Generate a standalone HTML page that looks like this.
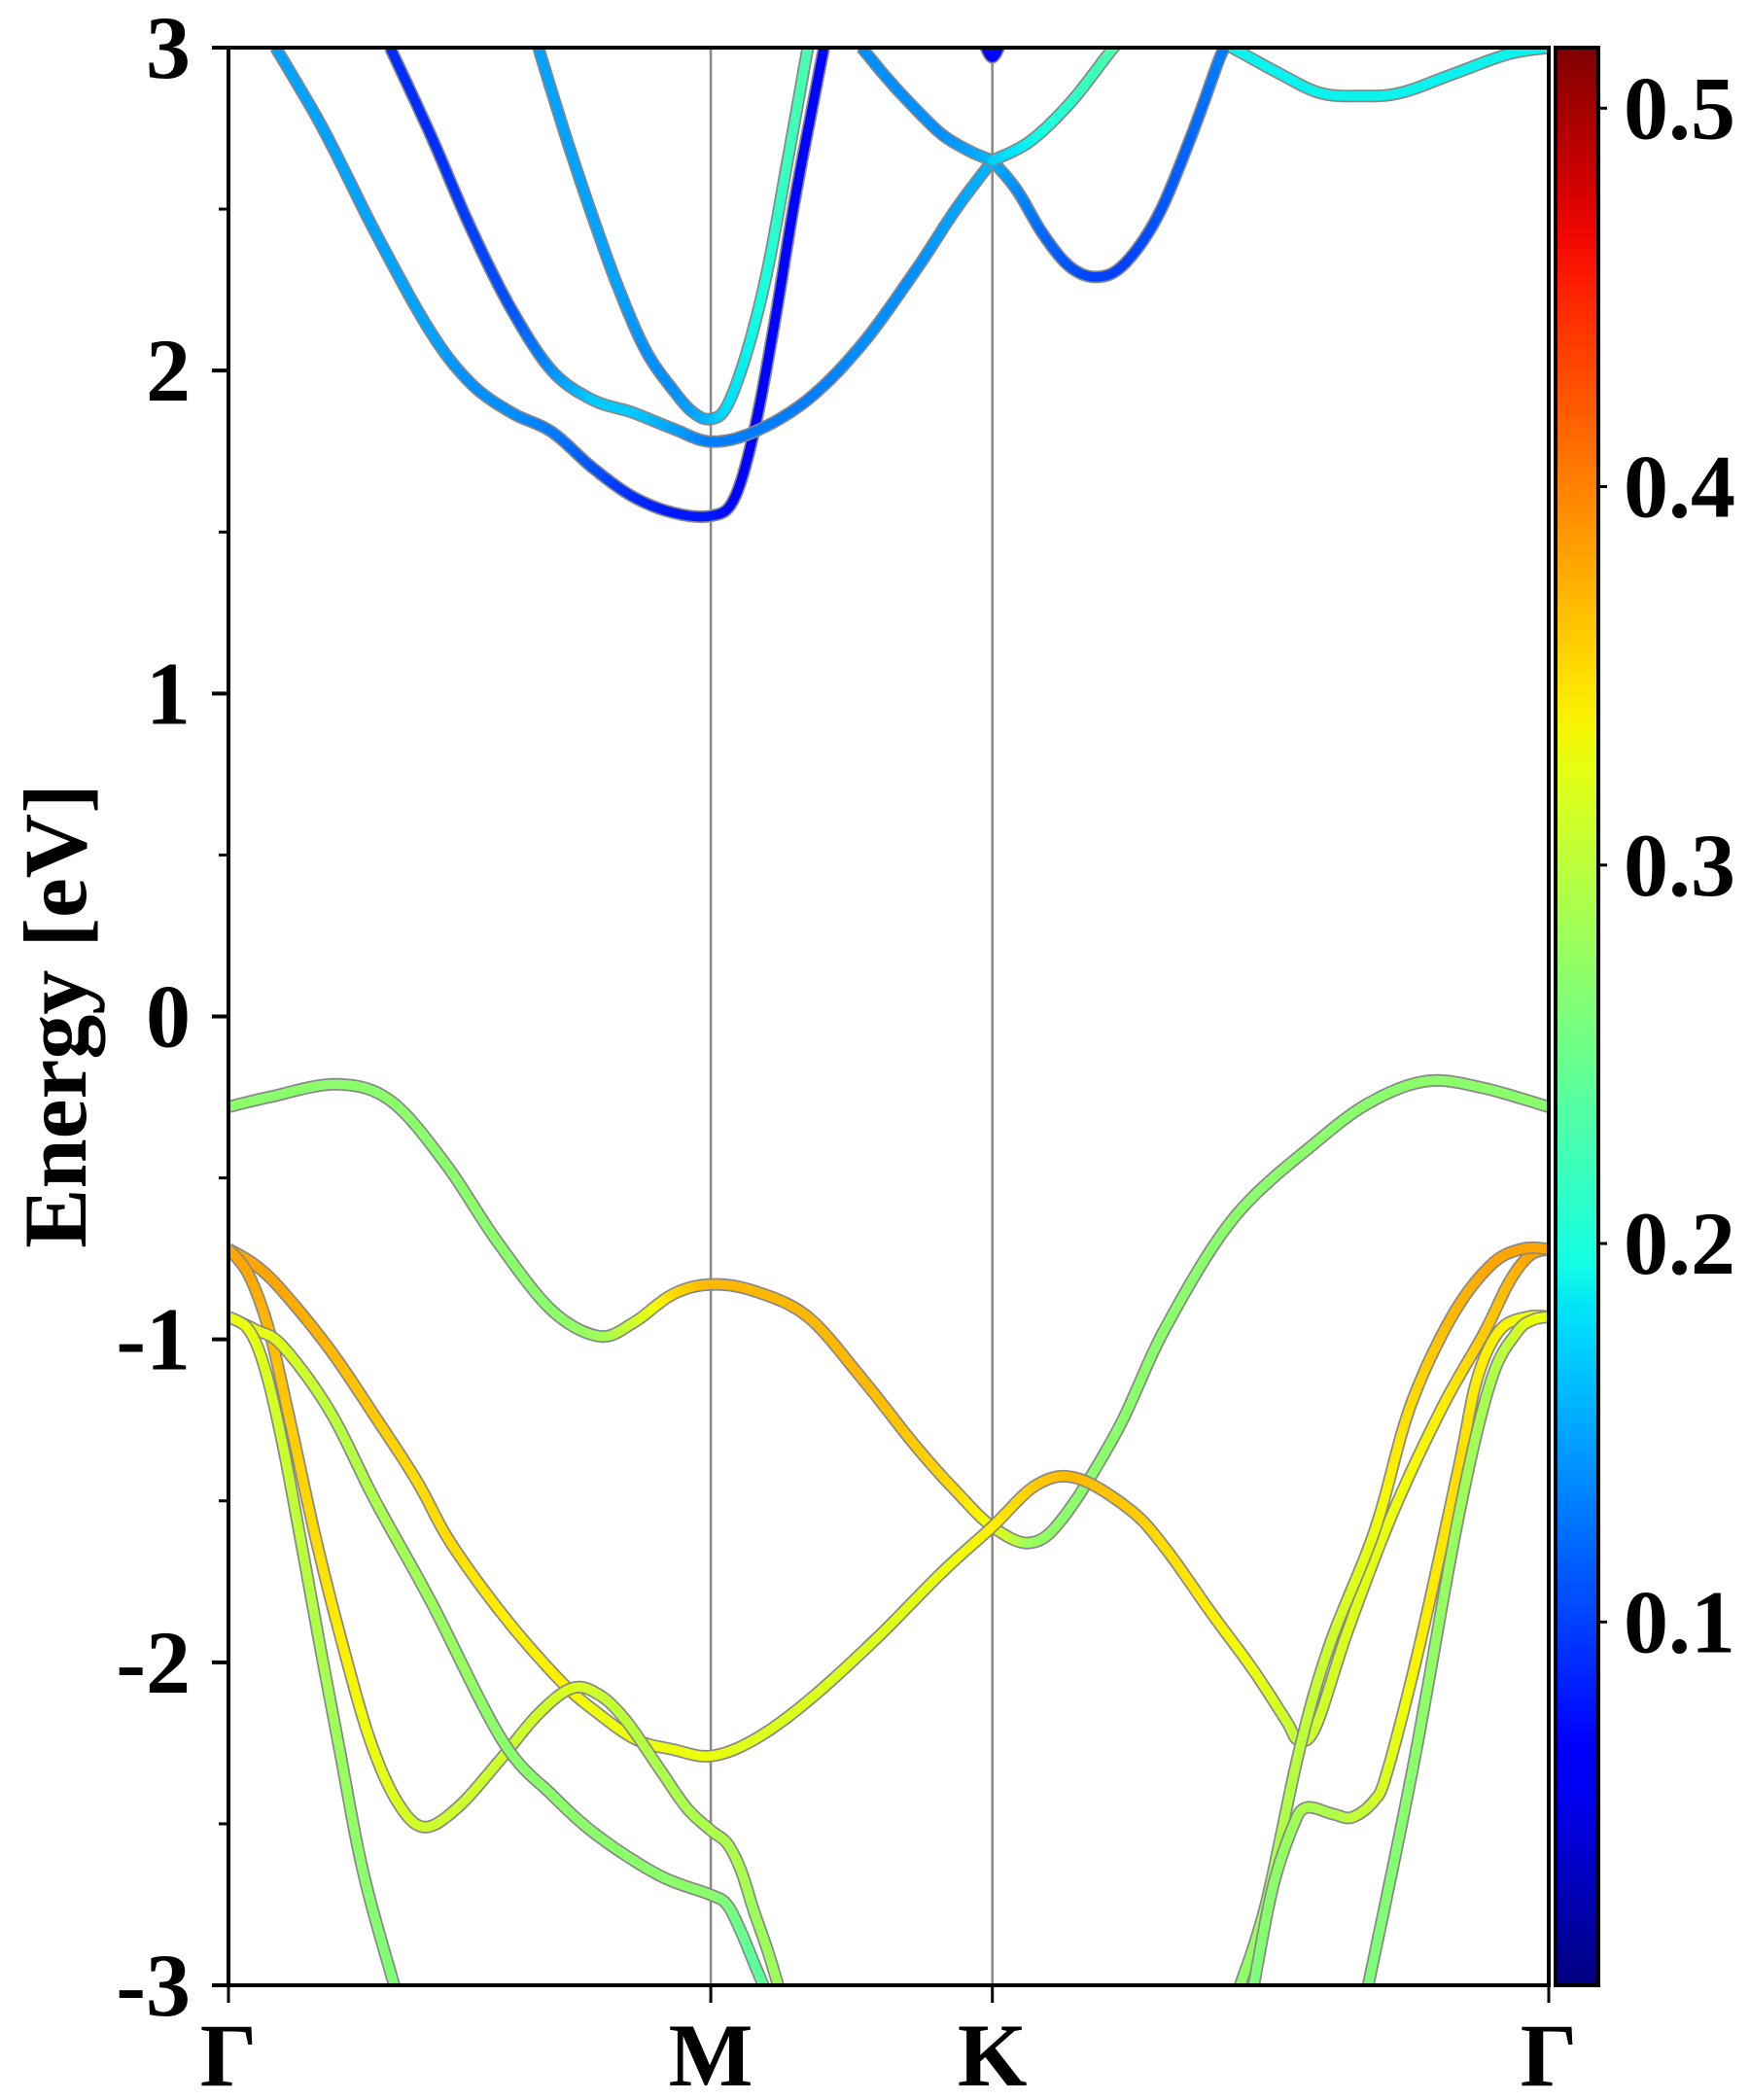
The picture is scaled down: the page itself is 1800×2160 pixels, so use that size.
<!DOCTYPE html>
<html><head><meta charset="utf-8"><style>
html,body{margin:0;padding:0;background:#fff;}
svg{display:block;font-family:"Liberation Serif",serif;font-weight:bold;}
</style></head><body>
<svg id="chart" width="1800" height="2160" viewBox="0 0 1800 2160" xmlns="http://www.w3.org/2000/svg">
<defs>
<clipPath id="plotclip"><rect x="235" y="49" width="1358" height="1993"/></clipPath>
<linearGradient id="cbgrad" x1="0" y1="1" x2="0" y2="0"></linearGradient>
</defs>
<g id="bands" clip-path="url(#plotclip)"></g>
<g id="axes"></g>
</svg>
<script>
// ---- data ----
const kTicks = [0, 358, 567, 980];
const kTickLabels = ["Γ", "M", "K", "Γ"];
const yTicks = [-3, -2, -1, 0, 1, 2, 3];
const yTickLabels = ["-3", "-2", "-1", "0", "1", "2", "3"];
const cbTicks = [0.1, 0.2, 0.3, 0.4, 0.5];
const cbTickLabels = ["0.1", "0.2", "0.3", "0.4", "0.5"];
const cbMin = 0.004, cbMax = 0.516;

const bandA_k = [35,70,110,150,180,210,240,270,300,330,358,375,390,405,420,435,442];
const bandA_E = [3.00,2.75,2.42,2.12,1.96,1.87,1.81,1.70,1.61,1.56,1.55,1.60,1.81,2.14,2.52,2.85,3.00];
const bandA_w = [0.15,0.15,0.15,0.15,0.14,0.14,0.13,0.11,0.09,0.08,0.08,0.07,0.07,0.07,0.07,0.07,0.07];

const bandB_k = [120,150,180,210,240,270,300,330,358,390,430,470,510,540,567];
const bandB_E = [3.00,2.73,2.44,2.19,2.00,1.91,1.87,1.82,1.78,1.81,1.91,2.08,2.31,2.50,2.65];
const bandB_w = [0.09,0.09,0.10,0.11,0.14,0.17,0.17,0.15,0.13,0.13,0.13,0.14,0.14,0.15,0.16];

const bandC_k = [230,250,270,290,310,330,345,358,370,385,400,415,430];
const bandC_E = [3.00,2.73,2.48,2.25,2.06,1.94,1.87,1.85,1.89,2.06,2.31,2.65,3.00];
const bandC_w = [0.15,0.15,0.15,0.15,0.14,0.14,0.15,0.16,0.18,0.19,0.20,0.22,0.23];

const bandD_k = [470,490,510,530,550,567];
const bandD_E = [3.00,2.90,2.81,2.73,2.68,2.65];
const bandD_w = [0.14,0.14,0.14,0.14,0.15,0.16];

const bandE_k = [567,585,605,625,645,665,690,715,735,740];
const bandE_E = [2.65,2.56,2.42,2.32,2.29,2.33,2.48,2.73,2.96,3.00];
const bandE_w = [0.16,0.14,0.12,0.11,0.10,0.10,0.11,0.12,0.13,0.13];

const bandF_k = [567,595,625,655,662];
const bandF_E = [2.65,2.71,2.83,2.99,3.02];
const bandF_w = [0.17,0.19,0.21,0.23,0.23];

const bandG_k = [560,567,574];
const bandG_E = [3.02,2.97,3.02];
const bandG_w = [0.07,0.07,0.07];

const bandH_k = [745,780,810,840,870,910,950,980];
const bandH_E = [3.00,2.92,2.86,2.85,2.86,2.92,2.98,3.00];
const bandH_w = [0.19,0.19,0.19,0.19,0.19,0.19,0.19,0.19];

const bandV1_k = [0,30,80,120,160,200,240,275,300,330,358,390,430,470,510,540,567,595,620,660,696,747,810,850,890,930,980];
const bandV1_E = [-0.28,-0.25,-0.21,-0.26,-0.45,-0.70,-0.91,-0.99,-0.95,-0.86,-0.83,-0.85,-0.93,-1.12,-1.33,-1.47,-1.58,-1.63,-1.55,-1.28,-0.96,-0.62,-0.38,-0.26,-0.20,-0.22,-0.28];
const bandV1_w = [0.27,0.27,0.27,0.27,0.27,0.27,0.27,0.28,0.31,0.35,0.37,0.37,0.37,0.37,0.36,0.35,0.33,0.28,0.27,0.27,0.27,0.27,0.27,0.27,0.27,0.27,0.27];

const bandV2_k = [0,20,40,75,109,140,165,205,247,275,303,330,358,390,430,480,530,567,600,630,670,696,730,760,785,794,807,831,865,901,932,951,966,980];
const bandV2_E = [-0.72,-0.77,-0.85,-1.03,-1.24,-1.44,-1.63,-1.86,-2.06,-2.16,-2.24,-2.27,-2.29,-2.24,-2.12,-1.93,-1.72,-1.58,-1.45,-1.43,-1.53,-1.65,-1.85,-2.02,-2.18,-2.24,-2.20,-1.90,-1.53,-1.21,-0.98,-0.82,-0.74,-0.72];
const bandV2_w = [0.38,0.38,0.38,0.37,0.36,0.35,0.35,0.34,0.34,0.33,0.33,0.33,0.33,0.32,0.32,0.32,0.33,0.34,0.36,0.37,0.36,0.35,0.34,0.33,0.31,0.30,0.31,0.32,0.33,0.34,0.36,0.37,0.38,0.38];

const bandV3_k = [0,15,30,45,65,85,105,125,145,170,200,230,255,275,295,320,340,358,370,380,390,400,408];
const bandV3_E = [-0.72,-0.80,-0.97,-1.24,-1.62,-1.95,-2.24,-2.43,-2.51,-2.45,-2.31,-2.16,-2.08,-2.10,-2.18,-2.33,-2.45,-2.52,-2.56,-2.64,-2.77,-2.89,-3.00];
const bandV3_w = [0.38,0.38,0.37,0.36,0.35,0.34,0.33,0.32,0.31,0.31,0.31,0.31,0.32,0.31,0.30,0.29,0.29,0.29,0.29,0.29,0.28,0.28,0.28];

const bandV4_k = [0,20,40,75,109,150,203,240,275,320,358,370,380,390,397];
const bandV4_E = [-0.93,-0.97,-1.02,-1.22,-1.50,-1.81,-2.24,-2.41,-2.54,-2.66,-2.72,-2.75,-2.83,-2.93,-3.00];
const bandV4_w = [0.33,0.33,0.32,0.30,0.29,0.28,0.27,0.27,0.27,0.27,0.27,0.26,0.25,0.24,0.24];

const bandV5_k = [0,15,27,40,54,68,82,100,123];
const bandV5_E = [-0.93,-0.97,-1.09,-1.32,-1.63,-1.95,-2.26,-2.65,-3.00];
const bandV5_w = [0.33,0.33,0.32,0.31,0.30,0.29,0.28,0.27,0.26];

const bandL1_k = [751,770,795,817,851,877,908,937,960,980];
const bandL1_E = [-3.00,-2.75,-2.27,-1.95,-1.59,-1.21,-0.93,-0.77,-0.72,-0.72];
const bandL1_w = [0.27,0.28,0.30,0.31,0.33,0.35,0.37,0.38,0.38,0.38];

const bandL3_k = [761,775,790,800,820,834,850,860,884,913,927,944,965,980];
const bandL3_E = [-3.00,-2.70,-2.51,-2.45,-2.47,-2.48,-2.43,-2.34,-1.95,-1.40,-1.12,-0.97,-0.93,-0.93];
const bandL3_w = [0.26,0.27,0.28,0.29,0.29,0.30,0.31,0.32,0.34,0.35,0.34,0.34,0.33,0.33];

const bandL4_k = [846,879,913,937,956,968,980];
const bandL4_E = [-3.00,-2.33,-1.55,-1.13,-0.98,-0.94,-0.93];
const bandL4_w = [0.26,0.27,0.28,0.29,0.31,0.33,0.33];

// ---- scales ----
const X0 = 235, X1 = 1593, Y0 = 49, Y1 = 2042;
function xScale(k){ return X0 + k/980*(X1-X0); }
function yScale(E){ return Y0 + (3-E)/6*(Y1-Y0); }
function cbScale(v){ return Y1 - (v-cbMin)/(cbMax-cbMin)*(Y1-Y0); }
function interp(t, pts){
  for (let i=0;i<pts.length-1;i++){
    if (t<=pts[i+1][0]){ const a=pts[i], b=pts[i+1]; return a[1]+(b[1]-a[1])*(t-a[0])/(b[0]-a[0]); }
  }
  return pts[pts.length-1][1];
}
function jet(t){
  t = Math.max(0, Math.min(1, t));
  const r = interp(t, [[0,0],[0.35,0],[0.66,1],[0.89,1],[1,0.5]]);
  const g = interp(t, [[0,0],[0.125,0],[0.375,1],[0.64,1],[0.91,0],[1,0]]);
  const b = interp(t, [[0,0.5],[0.11,1],[0.34,1],[0.65,0],[1,0]]);
  return "rgb("+Math.round(255*r)+","+Math.round(255*g)+","+Math.round(255*b)+")";
}
const NS = "http://www.w3.org/2000/svg";
function mk(tag, attrs, parent){
  const e = document.createElementNS(NS, tag);
  for (const a in attrs) e.setAttribute(a, attrs[a]);
  parent.appendChild(e); return e;
}
function catmull(px, py, pw){
  const ox=[], oy=[], ow=[];
  const n = px.length;
  for (let i=0;i<n-1;i++){
    const i0=Math.max(0,i-1), i3=Math.min(n-1,i+2);
    for (let s=0;s<12;s++){
      const t=s/12, t2=t*t, t3=t2*t;
      const f=(p0,p1,p2,p3)=>0.5*((2*p1)+(-p0+p2)*t+(2*p0-5*p1+4*p2-p3)*t2+(-p0+3*p1-3*p2+p3)*t3);
      ox.push(f(px[i0],px[i],px[i+1],px[i3]));
      oy.push(f(py[i0],py[i],py[i+1],py[i3]));
      ow.push(pw[i]+(pw[i+1]-pw[i])*t);
    }
  }
  ox.push(px[n-1]); oy.push(py[n-1]); ow.push(pw[n-1]);
  return [ox,oy,ow];
}
const bandsG = document.getElementById("bands");
const axesG = document.getElementById("axes");

[1,2].forEach(i=>{
  const l = mk("line",{x1:xScale(kTicks[i]),x2:xScale(kTicks[i]),y1:Y0,y2:Y1,stroke:"#888","stroke-width":2.5},bandsG);
  
  
});

const bands = [
  ["band-c1",bandA_k,bandA_E,bandA_w],["band-c2",bandB_k,bandB_E,bandB_w],["band-c3",bandC_k,bandC_E,bandC_w],
  ["band-c4",bandD_k,bandD_E,bandD_w],["band-c5",bandE_k,bandE_E,bandE_w],["band-c6",bandF_k,bandF_E,bandF_w],
  ["band-c7",bandG_k,bandG_E,bandG_w],["band-c8",bandH_k,bandH_E,bandH_w],
  ["band-v1",bandV1_k,bandV1_E,bandV1_w],["band-v2",bandV2_k,bandV2_E,bandV2_w],["band-v3",bandV3_k,bandV3_E,bandV3_w],
  ["band-v4",bandV4_k,bandV4_E,bandV4_w],["band-v5",bandV5_k,bandV5_E,bandV5_w],["band-v6",bandL1_k,bandL1_E,bandL1_w],
  ["band-v7",bandL3_k,bandL3_E,bandL3_w],["band-v8",bandL4_k,bandL4_E,bandL4_w]
];
bands.forEach(b=>{
  const g = mk("g",{},bandsG);
  
  
  const px=b[1].map(xScale), py=b[2].map(yScale);
  const [ox,oy,ow] = catmull(px,py,b[3]);
  let d="M"+ox[0].toFixed(1)+" "+oy[0].toFixed(1);
  for (let i=1;i<ox.length;i++) d+="L"+ox[i].toFixed(1)+" "+oy[i].toFixed(1);
  mk("path",{d:d,fill:"none",stroke:"#888","stroke-width":13,"stroke-linejoin":"round"},g);
  for (let i=0;i<ox.length-1;i++){
    mk("line",{x1:ox[i],y1:oy[i],x2:ox[i+1],y2:oy[i+1],stroke:jet((ow[i]-cbMin)/(cbMax-cbMin)),"stroke-width":9.5,"stroke-linecap":"round"},g);
  }
});

const frame = mk("rect",{x:X0,y:Y0,width:X1-X0,height:Y1-Y0,fill:"none",stroke:"#000","stroke-width":4},axesG);



yTicks.forEach((v,i)=>{
  mk("line",{x1:X0-17,x2:X0,y1:yScale(v),y2:yScale(v),stroke:"#000","stroke-width":4},axesG);
  if (i<yTicks.length-1){ const ym=yScale(v+0.5); mk("line",{x1:X0-10,x2:X0,y1:ym,y2:ym,stroke:"#000","stroke-width":3},axesG); }
  const t = mk("text",{x:196,y:yScale(v)+31,"text-anchor":"end","font-size":92},axesG);
  t.textContent = yTickLabels[i];
  
  
});
kTicks.forEach((v,i)=>{
  mk("line",{x1:xScale(v),x2:xScale(v),y1:Y1,y2:Y1+18,stroke:"#000","stroke-width":3},axesG);
  const t = mk("text",{x:xScale(v),y:2145,"text-anchor":"middle","font-size":92},axesG);
  t.textContent = kTickLabels[i];
  
  
});
const yt = mk("text",{x:0,y:0,"text-anchor":"middle","font-size":92,transform:"translate(88,1045) rotate(-90)"},axesG);
yt.textContent = "Energy [eV]";



const grad = document.getElementById("cbgrad");
for (let i=0;i<=40;i++){ mk("stop",{offset:(i/40),"stop-color":jet(i/40)},grad); }
const cb = mk("rect",{x:1600,y:Y0,width:44,height:Y1-Y0,fill:"url(#cbgrad)",stroke:"#000","stroke-width":4},axesG);


cbTicks.forEach((v,i)=>{
  const y=cbScale(v);
  mk("line",{x1:1644,x2:1653,y1:y,y2:y,stroke:"#000","stroke-width":3},axesG);
  const t = mk("text",{x:1670,y:y+31,"font-size":92},axesG);
  t.textContent = cbTickLabels[i];
  
  
});
</script>
</body></html>
